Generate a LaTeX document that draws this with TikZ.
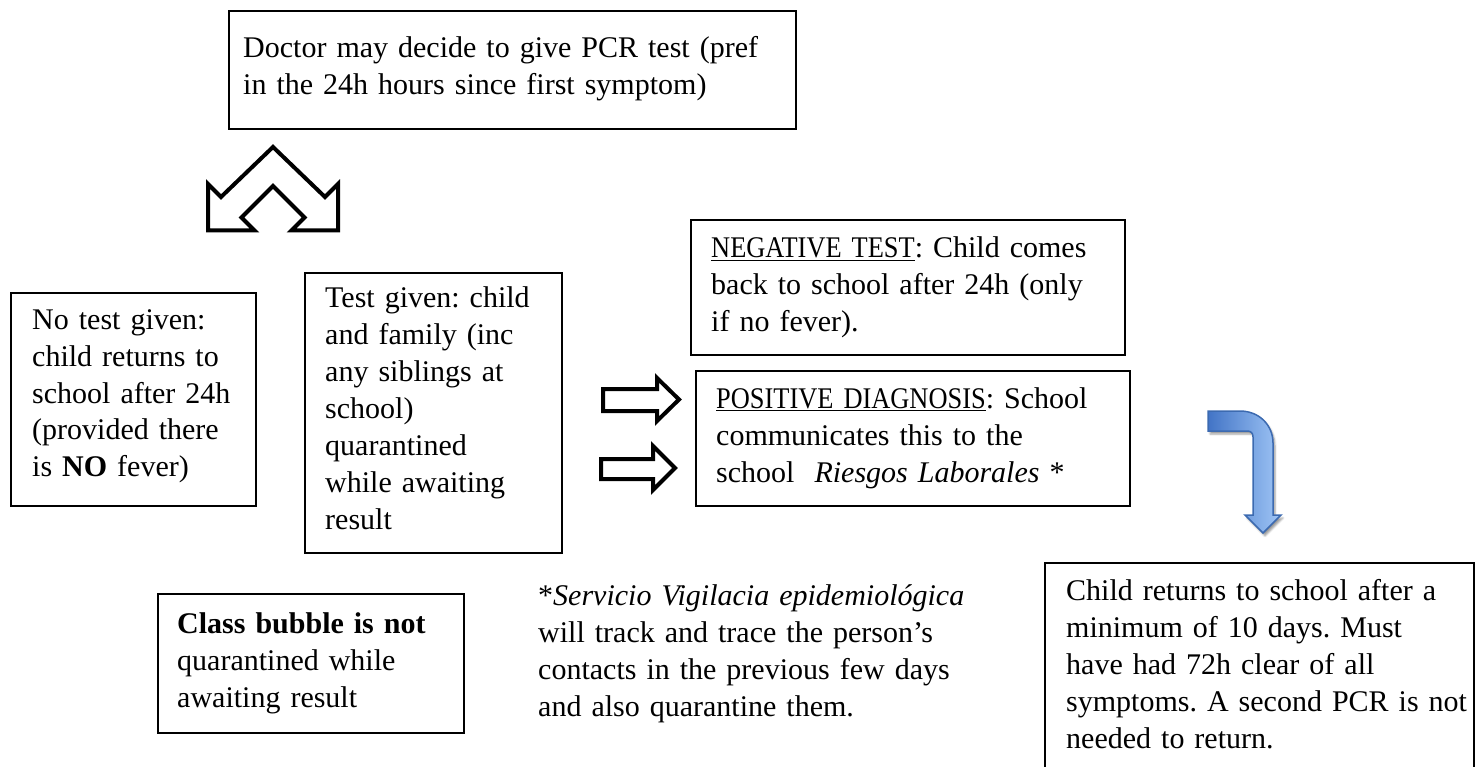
\documentclass[tikz,border=0pt]{standalone}
\usepackage{fontspec}
\setmainfont{Liberation Serif}
\newfontfamily\narrowcaps[FakeStretch=0.88]{Liberation Serif}
\usetikzlibrary{shadows,shadows.blur}
\definecolor{bentdark}{RGB}{66,116,198}
\definecolor{bentlight}{RGB}{160,198,246}
\definecolor{bentedge}{RGB}{60,106,176}
\tikzset{
  box/.style={draw, line width=1.8pt, inner sep=0pt, anchor=north west},
  txt/.style={inner sep=0pt, text width=600pt, align=left, anchor=base west},
  blockarrow/.style={draw, fill=white, line width=4pt, line join=miter}
}
\newcommand{\headword}[1]{\underline{{\narrowcaps #1}}}
\begin{document}
\frenchspacing
\begin{tikzpicture}[x=1pt,y=-1pt,font=\fontsize{30}{37}\selectfont]
\path[use as bounding box] (0,0) rectangle (1475,767);
\clip (0,0) rectangle (1475,767);
% boxes
\node[box, minimum width=567pt, minimum height=118pt] (doc) at (228,10) {};
\node[box, minimum width=245pt, minimum height=213pt] (notest) at (10,292) {};
\node[box, minimum width=257pt, minimum height=280pt] (given) at (304,272) {};
\node[box, minimum width=434pt, minimum height=135pt] (neg) at (690,219) {};
\node[box, minimum width=434pt, minimum height=135pt] (pos) at (695,370) {};
\node[box, minimum width=306pt, minimum height=139pt] (bubble) at (157,593) {};
\node[box, minimum width=429pt, minimum height=260pt] (final) at (1044,562) {};
% texts
\node[txt] (doc-t) at (243,58) {Doctor may decide to give PCR test (pref\\in the 24h hours since first symptom)};
\node[txt] (notest-t) at (32,329) {No test given:\\child returns to\\school after 24h\\(provided there\\is \textbf{NO} fever)};
\node[txt] (given-t) at (325,308) {Test given: child\\and family (inc\\any siblings at\\school)\\quarantined\\while awaiting\\result};
\node[txt] (neg-t) at (711,258) {\headword{NEGATIVE TEST}: Child comes\\back to school after 24h (only\\if no fever).};
\node[txt] (pos-t) at (716,408) {\headword{POSITIVE DIAGNOSIS}: School\\communicates this to the\\school\ \ \textit{Riesgos Laborales} *};
\node[txt] (bubble-t) at (177,633) {\textbf{Class bubble is not}\\quarantined while\\awaiting result};
\node[txt] (foot-t) at (538,605) {*\textit{Servicio Vigilacia epidemiológica}\\will track and trace the person’s\\contacts in the previous few days\\and also quarantine them.};
\node[txt] (final-t) at (1066,600) {Child returns to school after a\\minimum of 10 days. Must\\have had 72h clear of all\\symptoms. A second PCR is not\\needed to return.};
% split arrow under the doctor box
\draw[blockarrow] (273,147) -- (325,197) -- (338,184) -- (338,230.5) -- (291.5,230.5)
  -- (304.5,217.5) -- (273,186) -- (241.5,217.5) -- (254.5,230.5) -- (208,230.5)
  -- (208,184) -- (221,197) -- cycle;
% arrows to the results
\draw[blockarrow] (603,389) -- (657,389) -- (657,378) -- (679,399.5) -- (657,421)
  -- (657,411) -- (603,411) -- cycle;
\draw[blockarrow] (601,459) -- (653,459) -- (653,446) -- (675,468) -- (653,490)
  -- (653,479) -- (601,479) -- cycle;
% bent arrow to the last box
\path[draw=bentedge, line width=1.5pt, left color=bentdark, right color=bentlight,
  blur shadow={shadow xshift=2pt, shadow yshift=-3pt}]
  (1208,411) -- (1240,411) .. controls (1259,411) and (1273,425) .. (1273,443)
  -- (1273,515) -- (1281,515) -- (1263,533) -- (1245,515) -- (1253,515)
  -- (1253,437) .. controls (1253,433) and (1251,431) .. (1247,431) -- (1208,431) -- cycle;
\end{tikzpicture}
\end{document}
